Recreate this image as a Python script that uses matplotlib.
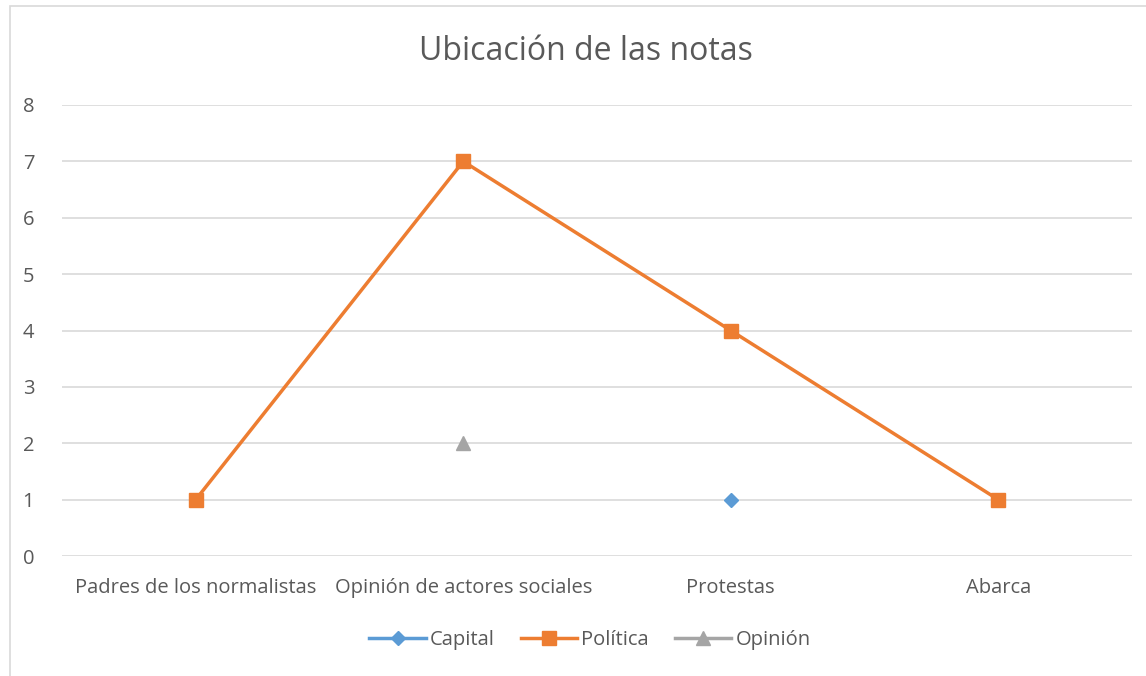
import matplotlib
matplotlib.use("Agg")
import matplotlib.pyplot as plt
import numpy as np
from matplotlib.patches import Rectangle

categories = ["Padres de los normalistas", "Opinión de actores sociales", "Protestas", "Abarca"]
capital = [np.nan, np.nan, 1, np.nan]
politica = [1, 7, 4, 1]
opinion = [np.nan, 2, np.nan, np.nan]
yticks = [0, 1, 2, 3, 4, 5, 6, 7, 8]

plt.rcParams['font.family'] = ['Open Sans', 'DejaVu Sans']
txt = '#595959'

fig = plt.figure(figsize=(11.46, 6.76), dpi=100)
fig.patches.append(Rectangle((10/1146, -0.1), 1.2, 1 - 6/676 + 0.1, transform=fig.transFigure,
                             fill=False, edgecolor='#d9d9d9', linewidth=1.2))
ax = fig.add_axes([62/1146, 120/676, 1070/1146, 451/676])
x = np.arange(len(categories))
ax.plot(x, capital, color='#5b9bd5', lw=2.5, marker='D', ms=7, label='Capital')
ax.plot(x, politica, color='#ed7d31', lw=2.5, marker='s', ms=10, label='Política')
ax.plot(x, opinion, color='#a5a5a5', lw=2.5, marker='^', ms=9.5, label='Opinión')

ax.set_xlim(-0.5, len(categories) - 0.5)
ax.set_ylim(0, 8)
ax.set_yticks(yticks)
ax.set_xticks(x)
ax.set_xticklabels(categories)
ax.tick_params(axis='both', length=0, colors=txt, labelsize=14.5)
ax.tick_params(axis='y', pad=20)
ax.tick_params(axis='x', pad=16)
ax.grid(axis='y', color='#d9d9d9', lw=1.2)
ax.set_axisbelow(True)
for s in ax.spines.values():
    s.set_visible(False)

fig.text(586/1146, 1 - 51/676, 'Ubicación de las notas', ha='center', va='center', fontsize=23, color=txt)
leg = fig.legend(loc='center', bbox_to_anchor=(590/1146, 1 - 640/676), ncol=3, frameon=False,
                 fontsize=14.5, labelcolor=txt, handlelength=2.8, columnspacing=1.3, handletextpad=0.2)
fig.savefig('out.png', dpi=100)
